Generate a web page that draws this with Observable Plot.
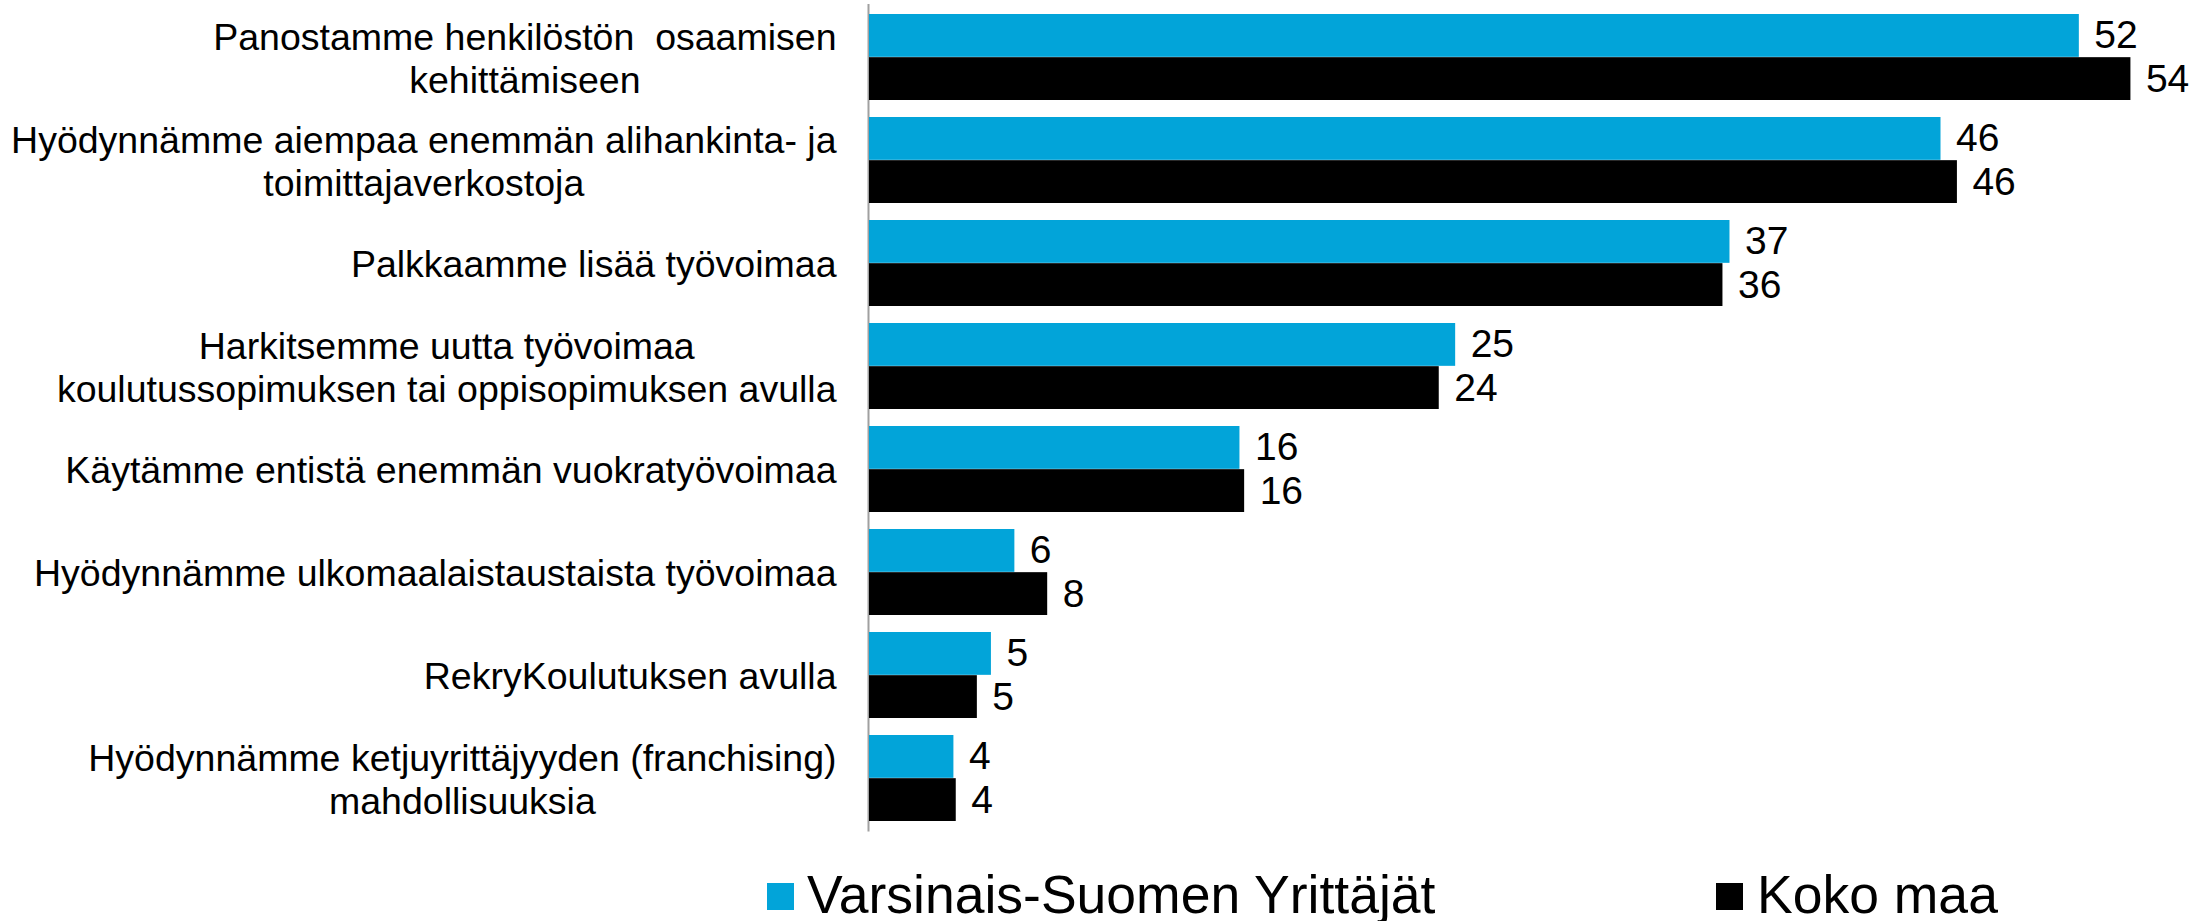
<!DOCTYPE html>
<html>
<head>
<meta charset="utf-8">
<script src="https://cdn.jsdelivr.net/npm/d3@7"></script>
<script src="https://cdn.jsdelivr.net/npm/@observablehq/plot@0.6"></script>
<style>
  body { margin: 0; background: #fff; font-family: "Liberation Sans", Arial, sans-serif; }
  #wrap { position: relative; width: 2207px; height: 921px; }
  .sw { position: absolute; width: 27px; height: 27px; top: 883px; }
  .lt { position: absolute; top: 868px; font-size: 53.5px; line-height: 1; color: #000; white-space: nowrap; }
</style>
</head>
<body>
<div id="wrap"><div id="chart"></div><div id="legend"></div></div>
<script>
const categories = [
  "Panostamme henkilöstön\u00a0 osaamisen\nkehittämiseen",
  "Hyödynnämme aiempaa enemmän alihankinta- ja\ntoimittajaverkostoja",
  "Palkkaamme lisää työvoimaa",
  "Harkitsemme uutta työvoimaa\nkoulutussopimuksen tai oppisopimuksen avulla",
  "Käytämme entistä enemmän vuokratyövoimaa",
  "Hyödynnämme ulkomaalaistaustaista työvoimaa",
  "RekryKoulutuksen avulla",
  "Hyödynnämme ketjuyrittäjyyden (franchising)\nmahdollisuuksia"
];
const seriesNames = ["Varsinais-Suomen Yrittäjät", "Koko maa"];
const seriesColors = ["#02A4D9", "#000000"];
const valuesVS   = [51.6, 45.7, 36.7, 25.0, 15.8, 6.2, 5.2, 3.6];
const valuesKoko = [53.8, 46.4, 36.4, 24.3, 16.0, 7.6, 4.6, 3.7];
const labelsVS   = [52, 46, 37, 25, 16, 6, 5, 4];
const labelsKoko = [54, 46, 36, 24, 16, 8, 5, 4];

const dataVS = categories.map((c, i) => ({cat: c, value: valuesVS[i], label: String(labelsVS[i])}));
const dataKoko = categories.map((c, i) => ({cat: c, value: valuesKoko[i], label: String(labelsKoko[i])}));

// layout
const H = 850, mTop = 4, mBottom = 18.5, pI = 0.165, pO = 0.084;
const step = (H - mTop - mBottom) / (categories.length - pI + 2 * pO);
const bw = step * (1 - pI);
const fontFamily = "'Liberation Sans', Arial, sans-serif";
const labelSize = 37.5, valueSize = 39, gap = 33;

const ctx = document.createElement("canvas").getContext("2d");
ctx.font = `${labelSize}px ${fontFamily}`;
const blockWidth = s => Math.max(...s.split("\n").map(l => ctx.measureText(l).width));

const catMarks = categories.map(c => Plot.text([c], {
  x: 0, y: d => d, text: d => d, textAnchor: "middle",
  dx: -(gap + blockWidth(c) / 2), fontSize: labelSize, lineHeight: 1.15, fill: "#000"
}));

const chart = Plot.plot({
  width: 2207, height: H,
  marginLeft: 869, marginRight: 25, marginTop: mTop, marginBottom: mBottom,
  style: {fontFamily, background: "#fff", color: "#000"},
  x: {domain: [0, 56], axis: null},
  y: {type: "band", domain: categories, paddingInner: pI, paddingOuter: pO, axis: null},
  marks: [
    Plot.ruleX([0], {stroke: "#a0a0a0", strokeWidth: 2, dx: -1}),
    Plot.barX(dataVS, {x: "value", y: "cat", fill: seriesColors[0], insetBottom: bw / 2}),
    Plot.barX(dataKoko, {x: "value", y: "cat", fill: seriesColors[1], insetTop: bw / 2}),
    Plot.text(dataVS, {x: "value", y: "cat", text: "label", textAnchor: "start", dx: 15, dy: -bw / 4, fontSize: valueSize, fill: "#000"}),
    Plot.text(dataKoko, {x: "value", y: "cat", text: "label", textAnchor: "start", dx: 15, dy: bw / 4, fontSize: valueSize, fill: "#000"}),
    ...catMarks
  ]
});
document.getElementById("chart").appendChild(chart);

// legend
const legendPos = [{sw: 767, txt: 807}, {sw: 1716, txt: 1757}];
const lg = document.getElementById("legend");
seriesNames.forEach((name, i) => {
  const s = document.createElement("div");
  s.className = "sw"; s.style.left = legendPos[i].sw + "px"; s.style.background = seriesColors[i];
  const t = document.createElement("div");
  t.className = "lt"; t.style.left = legendPos[i].txt + "px"; t.textContent = name;
  lg.appendChild(s); lg.appendChild(t);
});
</script>
</body>
</html>
